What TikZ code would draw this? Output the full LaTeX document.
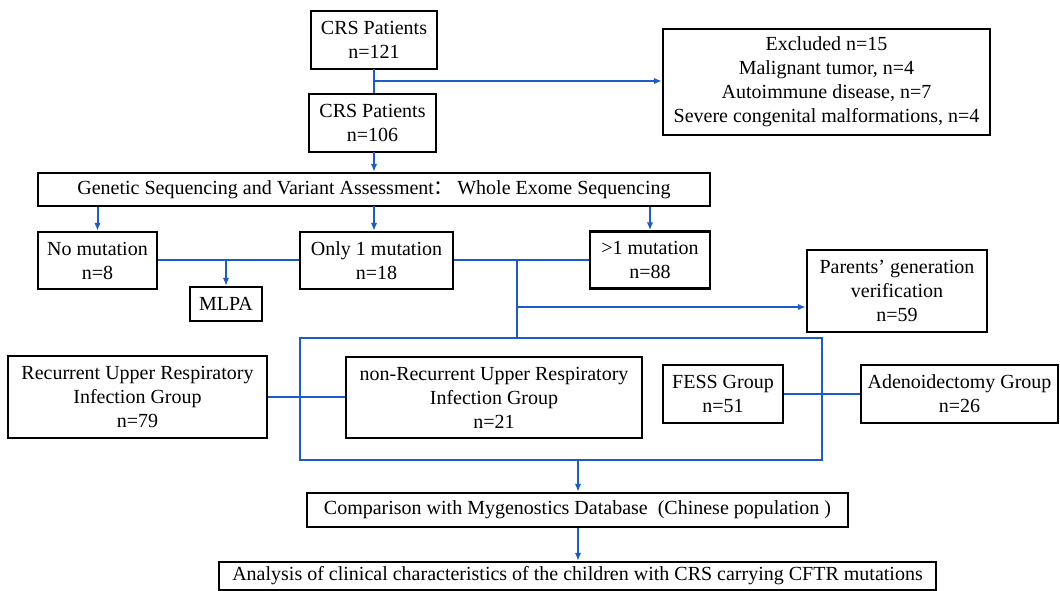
\documentclass[tikz,border=0pt]{standalone}
\usepackage{fontspec}
\setmainfont{Liberation Serif}
\newfontfamily\cjk{Noto Sans CJK SC}
\usetikzlibrary{arrows.meta}

\definecolor{linkblue}{RGB}{28,92,200}

\begin{document}
\begin{tikzpicture}[x=1pt,y=-1pt,>={Latex[length=8pt,width=6.5pt]},
  box/.style={draw=black,line width=2.4pt,align=center,inner sep=0pt,
    font=\fontsize{20}{24}\selectfont},
  link/.style={draw=linkblue,line width=2pt}]

\useasboundingbox (0,0) rectangle (1060,590);

\node[box,minimum width=126,minimum height=58] (crsA) at (374,40) {CRS Patients\\n=121};
\node[box,minimum width=127,minimum height=58] (crsB) at (372.5,123) {CRS Patients\\n=106};
\node[box,minimum width=327,minimum height=106] (excl) at (826.5,82)
  {Excluded n=15\\Malignant tumor, n=4\\Autoimmune disease, n=7\\Severe congenital malformations, n=4};
\node[box,minimum width=672,minimum height=33] (gen) at (374,189.5)
  {Genetic Sequencing and Variant Assessment{\cjk ：}\,Whole Exome Sequencing};

\node[box,minimum width=119,minimum height=57] (nomut) at (97.5,260.5) {No mutation\\n=8};
\node[box,minimum width=153,minimum height=57] (one) at (376.5,260.5) {Only 1 mutation\\n=18};
\node[box,minimum width=120,minimum height=57] (more) at (650,260) {>1 mutation\\n=88};
\node[box,minimum width=72,minimum height=34] (mlpa) at (226,304) {MLPA};
\node[box,minimum width=180,minimum height=82] (par) at (897,291)
  {Parents' generation\\verification\\n=59};

\node[box,minimum width=259,minimum height=82] (rec) at (137.5,397)
  {Recurrent Upper Respiratory\\Infection Group\\n=79};
\node[box,minimum width=296,minimum height=81] (nonrec) at (494,397.5)
  {non-Recurrent Upper Respiratory\\Infection Group\\n=21};
\node[box,minimum width=120,minimum height=58] (fess) at (723,394) {FESS Group\\n=51};
\node[box,minimum width=197,minimum height=58] (adeno) at (959.5,394) {Adenoidectomy Group\\n=26};

\node[box,minimum width=541,minimum height=34] (comp) at (577.5,510)
  {Comparison with Mygenostics Database\ \ (Chinese population )};
\node[box,minimum width=717,minimum height=28] (ana) at (577.5,576)
  {Analysis of clinical characteristics of the children with CRS carrying CFTR mutations};

% group frame
\coordinate (fTL) at (300,338);
\coordinate (fBR) at (822,460);
\draw[link] (fTL) rectangle (fBR);

% top part
\coordinate (t1) at (374,69);
\draw[link] (t1) -- (t1 |- crsB.north);
\coordinate (b1) at (374,81);
\draw[link,->] (b1) -- (b1 -| excl.west);
\coordinate (t2) at (374,152);
\draw[link,->] (t2) -- (t2 |- gen.north);

\draw[link,->] (gen.south -| nomut) -- (nomut.north);
\coordinate (t3) at (374,206);
\draw[link,->] (t3) -- (t3 |- one.north);
\draw[link,->] (gen.south -| more) -- (more.north);

% mutation row
\draw[link] (nomut.east |- 0,260) -- (one.west |- 0,260);
\coordinate (m1) at (226,260);
\draw[link,->] (m1) -- (mlpa.north);
\draw[link] (one.east |- 0,260) -- (more.west |- 0,260);
\coordinate (j1) at (517,260);
\coordinate (j2) at (517,307);
\draw[link] (j1) -- (j1 |- fTL);
\draw[link,->] (j2) -- (j2 -| par.west);

% groups
\draw[link] (rec.east |- 0,397) -- (nonrec.west |- 0,397);
\draw[link] (fess.east) -- (adeno.west);

% bottom
\coordinate (b2) at (578,460);
\draw[link,->] (b2) -- (b2 |- comp.north);
\draw[link,->] (comp.south -| b2) -- (ana.north -| b2);

\end{tikzpicture}
\end{document}
